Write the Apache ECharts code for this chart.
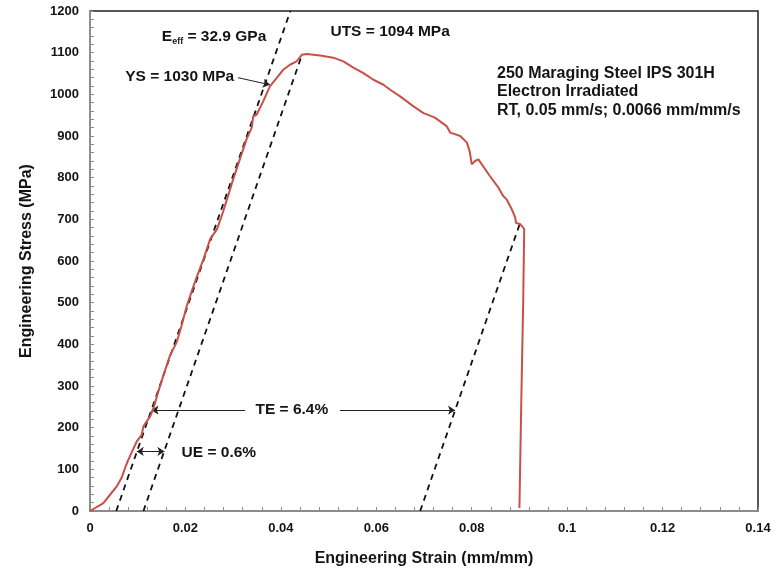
<!DOCTYPE html>
<html>
<head>
<meta charset="utf-8">
<script src="https://cdn.jsdelivr.net/npm/echarts@6/dist/echarts.min.js"></script>
<style>
  html, body { margin: 0; padding: 0; background: #fff; }
  #chart { width: 782px; height: 572px; }
</style>
</head>
<body>
<div id="chart"></div>
<script>
// Engineering stress-strain curve, 250 maraging steel (IPS 301H), electron irradiated
const strain = [0, 0.0028, 0.0042, 0.0056, 0.0066, 0.0075, 0.0080, 0.0098, 0.0108, 0.0112,
  0.0126, 0.0133, 0.0143, 0.0154, 0.0168, 0.0182, 0.0192, 0.0203, 0.0220, 0.0238, 0.0252,
  0.0266, 0.0276, 0.0287, 0.0300, 0.0314, 0.0328, 0.0339, 0.0342, 0.0349, 0.0363, 0.0377,
  0.0391, 0.0405, 0.0419, 0.0433, 0.0444, 0.0454, 0.0482, 0.0510, 0.0531, 0.0552, 0.0573,
  0.0594, 0.0615, 0.0629, 0.0650, 0.0678, 0.0699, 0.0723, 0.0748, 0.0755, 0.0776, 0.0790,
  0.0796, 0.0800, 0.0807, 0.0814, 0.0838, 0.0856, 0.0866, 0.0873, 0.0884, 0.0891, 0.0893,
  0.0901, 0.0910, 0.0908, 0.0904, 0.0900];
const stress = [0, 19, 39, 59, 79, 108, 122, 167, 182, 203,
  227, 246, 286, 326, 374, 406, 445, 493, 550, 605, 653,
  676, 708, 748, 796, 844, 892, 920, 947, 951, 983, 1019,
  1039, 1059, 1071, 1079, 1095, 1097, 1093, 1088, 1079, 1064, 1051,
  1035, 1023, 1011, 995, 971, 955, 944, 923, 908, 900, 884,
  862, 832, 840, 844, 804, 776, 756, 748, 724, 705, 691,
  689, 677, 509, 270, 7];

// Construction lines (effective modulus E_eff = 32.9 GPa)
const modulusLine = [[0.0055, 0], [0.0420, 1200]];
const utsOffsetLine = [[0.0112, 0], [0.0444, 1094]];
const fractureOffsetLine = [[0.0692, 0], [0.0901, 690]];

// Dimension arrows
const teArrowLeft = [[0.0325, 242], [0.0129, 242]];
const teArrowRight = [[0.0524, 242], [0.0765, 242]];
const ueArrow = [[0.0098, 143], [0.0156, 143]];
const ysArrow = [[0.0310, 1040], [0.0377, 1023]];

// Axis ticks
const xTicks = { min: 0, max: 0.14, interval: 0.02 };
const yTicks = { min: 0, max: 1200, interval: 100 };

// Annotations (text anchored in data coordinates)
const notes = [
  { pos: [0.0260, 1138], text: '{m|E}{s|eff}{m| = 32.9 GPa}' },
  { pos: [0.0629, 1150], text: '{m|UTS = 1094 MPa}' },
  { pos: [0.0188, 1042], text: '{m|YS = 1030 MPa}' },
  { pos: [0.0423, 244], text: '{m|TE = 6.4%}' },
  { pos: [0.0270, 141], text: '{m|UE = 0.6%}' }
];
const infoLines = ['250 Maraging Steel IPS 301H', 'Electron Irradiated', 'RT, 0.05 mm/s; 0.0066 mm/mm/s'];
const infoPos = [0.0853, 1006];

const FONT = '"Liberation Sans", Arial, sans-serif';
const INK = '#141414';
const AXIS_GREY = '#8c8c8c';

function dashed(data) {
  return {
    type: 'line', data: data, symbol: 'none', silent: true, z: 3,
    lineStyle: { color: '#111', width: 1.8, type: [6, 5] }
  };
}
function arrow(data, both) {
  return {
    type: 'lines', coordinateSystem: 'cartesian2d', silent: true, z: 4,
    symbol: both ? ['arrow', 'arrow'] : ['none', 'arrow'],
    symbolSize: 7,
    lineStyle: { color: '#222', width: 1, opacity: 1 },
    data: [{ coords: data }]
  };
}

const chart = echarts.init(document.getElementById('chart'), null, { renderer: 'canvas' });
chart.setOption({
  animation: false,
  backgroundColor: '#fff',
  grid: {
    left: 90, right: 24, top: 11, bottom: 59,
    show: true, borderColor: '#222', borderWidth: 1.5, backgroundColor: 'transparent'
  },
  xAxis: {
    type: 'value', min: xTicks.min, max: xTicks.max, interval: xTicks.interval,
    name: 'Engineering Strain (mm/mm)', nameLocation: 'middle', nameGap: 40,
    nameTextStyle: { fontFamily: FONT, fontWeight: 'bold', fontSize: 16, color: INK },
    axisLine: { show: true, onZero: false, lineStyle: { color: AXIS_GREY, width: 2 } },
    axisTick: { show: true, inside: true, length: 4, lineStyle: { color: AXIS_GREY } },
    minorTick: { show: true, splitNumber: 5, length: 4, lineStyle: { color: AXIS_GREY } },
    axisLabel: {
      margin: 11, fontFamily: FONT, fontWeight: 'bold', fontSize: 13, color: INK,
      formatter: v => String(+v.toFixed(2))
    },
    splitLine: { show: false }
  },
  yAxis: {
    type: 'value', min: yTicks.min, max: yTicks.max, interval: yTicks.interval,
    name: 'Engineering Stress (MPa)', nameLocation: 'middle', nameGap: 55,
    nameTextStyle: { fontFamily: FONT, fontWeight: 'bold', fontSize: 16, color: INK },
    axisLine: { show: true, onZero: false, lineStyle: { color: AXIS_GREY, width: 2 } },
    axisTick: { show: true, inside: true, length: 4, lineStyle: { color: AXIS_GREY } },
    minorTick: { show: true, splitNumber: 5, length: 4, lineStyle: { color: AXIS_GREY } },
    axisLabel: {
      margin: 11, fontFamily: FONT, fontWeight: 'bold', fontSize: 13, color: INK,
      formatter: v => String(v)
    },
    splitLine: { show: false }
  },
  series: [
    dashed(modulusLine),
    dashed(utsOffsetLine),
    dashed(fractureOffsetLine),
    {
      type: 'line', name: 'Stress-strain', symbol: 'none', silent: true, z: 5,
      data: strain.map((s, i) => [s, stress[i]]),
      lineStyle: { color: '#c8504b', width: 2 }
    },
    arrow(teArrowLeft, false),
    arrow(teArrowRight, false),
    arrow(ueArrow, true),
    arrow(ysArrow, false),
    {
      type: 'scatter', symbolSize: 0, silent: true, z: 6,
      itemStyle: { opacity: 1 },
      data: notes.map(n => ({ value: n.pos, text: n.text })),
      label: {
        show: true, position: 'inside', opacity: 1, color: INK,
        formatter: p => p.data.text,
        rich: {
          m: { fontFamily: FONT, fontWeight: 'bold', fontSize: 15.5, color: INK },
          s: { fontFamily: FONT, fontWeight: 'bold', fontSize: 9, color: INK, padding: [9, 0, 0, 0] }
        }
      }
    },
    {
      type: 'scatter', symbolSize: 0, silent: true, z: 6,
      itemStyle: { opacity: 1 },
      data: [infoPos],
      label: {
        show: true, position: 'right', distance: 0, align: 'left', opacity: 1,
        formatter: infoLines.join('\n'),
        fontFamily: FONT, fontWeight: 'bold', fontSize: 16, lineHeight: 18.5, color: INK
      }
    }
  ]
});
</script>
</body>
</html>
